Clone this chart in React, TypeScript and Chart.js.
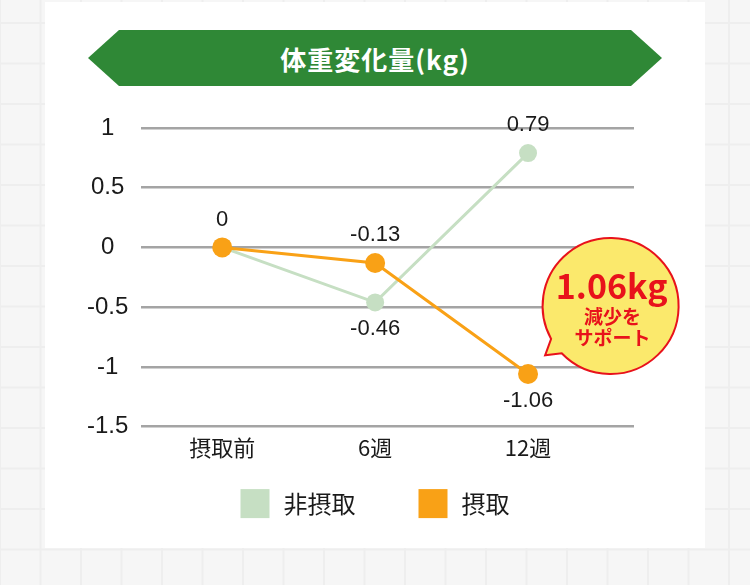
import { useEffect, useRef } from "react";
import { Chart, registerables } from "chart.js";

Chart.register(...registerables);

const categories = ["摂取前", "6週", "12週"];
const seriesNames = ["非摂取", "摂取"];
const nonIntake = [0, -0.46, 0.79];
const intake = [0, -0.13, -1.06];
const yTicks = [-1.5, -1, -0.5, 0, 0.5, 1];
// where each value label sits relative to its point ("" = no label)
const nonIntakeLabelSide = ["", "below", "above"];
const intakeLabelSide = ["above", "above", "below"];
const calloutLines = ["1.06kg", "減少を", "サポート"];
const calloutAt = { x: 2.54, y: -0.49 };

const GREEN = "#c6dfc3";
const ORANGE = "#f9a116";
const RED = "#e8121b";
const JP = '"Noto Sans CJK JP", "Noto Sans", sans-serif';
const LATIN = '"Liberation Sans", Arial, sans-serif';

const valueLabels = {
  id: "valueLabels",
  afterDatasetsDraw(chart: any) {
    const ctx = chart.ctx;
    const sides = [nonIntakeLabelSide, intakeLabelSide];
    ctx.save();
    ctx.font = `22px ${LATIN}`;
    ctx.fillStyle = "#1a1a1a";
    ctx.textAlign = "center";
    ctx.textBaseline = "middle";
    chart.data.datasets.forEach((ds: any, di: number) => {
      const meta = chart.getDatasetMeta(di);
      meta.data.forEach((pt: any, i: number) => {
        const side = sides[di][i];
        if (!side) return;
        ctx.fillText(String(ds.data[i].y), pt.x, pt.y + (side === "above" ? -28 : 27));
      });
    });
    ctx.restore();
  },
};

const callout = {
  id: "callout",
  afterDraw(chart: any) {
    const { ctx, scales } = chart;
    const cx = scales.x.getPixelForValue(calloutAt.x);
    const cy = scales.y.getPixelForValue(calloutAt.y);
    const r = 68;
    const deg = Math.PI / 180;
    const tipA = 143 * deg;
    ctx.save();
    ctx.beginPath();
    ctx.arc(cx, cy, r, 136 * deg, 151 * deg, true);
    ctx.lineTo(cx + Math.cos(tipA) * (r + 14), cy + Math.sin(tipA) * (r + 14));
    ctx.closePath();
    ctx.fillStyle = "#fbe96c";
    ctx.fill();
    ctx.lineWidth = 2;
    ctx.strokeStyle = RED;
    ctx.stroke();
    ctx.fillStyle = RED;
    ctx.textAlign = "center";
    ctx.textBaseline = "middle";
    ctx.font = `bold 34px ${JP}`;
    ctx.fillText(calloutLines[0], cx + 1, cy - 20);
    ctx.font = `bold 19px ${JP}`;
    ctx.fillText(calloutLines[1], cx + 2, cy + 11);
    ctx.fillText(calloutLines[2], cx + 2, cy + 32);
    ctx.restore();
  },
};

const legendRow = {
  id: "legendRow",
  afterDraw(chart: any) {
    const { ctx, chartArea } = chart;
    const box = 29;
    const gapText = 14;
    const gapItem = 63;
    ctx.save();
    ctx.font = `24px ${JP}`;
    const items = chart.data.datasets.map((ds: any) => ({
      text: ds.label,
      color: ds.backgroundColor,
      w: ctx.measureText(ds.label).width,
    }));
    const total =
      items.reduce((s: number, it: any) => s + box + gapText + it.w, 0) + gapItem * (items.length - 1);
    let x = chart.width / 2 - total / 2;
    const y = chartArea.bottom + 77;
    ctx.textBaseline = "middle";
    ctx.textAlign = "left";
    items.forEach((it: any) => {
      ctx.fillStyle = it.color;
      ctx.fillRect(x, y - box / 2, box, box);
      ctx.fillStyle = "#1a1a1a";
      ctx.fillText(it.text, x + box + gapText, y);
      x += box + gapText + it.w + gapItem;
    });
    ctx.restore();
  },
};

const WeightChart = () => {
  const canvasRef = useRef<HTMLCanvasElement | null>(null);
  const chartRef = useRef<Chart | null>(null);

  useEffect(() => {
    if (!canvasRef.current) return;
    const ctx = canvasRef.current.getContext("2d");
    if (!ctx) return;

    const toPoints = (vals: number[]) => vals.map((y, i) => ({ x: i, y }));

    chartRef.current = new Chart(ctx, {
      type: "line",
      data: {
        datasets: [
          {
            label: seriesNames[0],
            data: toPoints(nonIntake),
            borderColor: GREEN,
            backgroundColor: GREEN,
            pointBackgroundColor: GREEN,
            borderWidth: 3,
            pointRadius: 9,
            pointBorderWidth: 0,
            order: 1,
          },
          {
            label: seriesNames[1],
            data: toPoints(intake),
            borderColor: ORANGE,
            backgroundColor: ORANGE,
            pointBackgroundColor: ORANGE,
            borderWidth: 3,
            pointRadius: 10,
            pointBorderWidth: 0,
            order: 0,
          },
        ],
      },
      options: {
        responsive: false,
        animation: false,
        layout: { padding: { left: 74, right: 116, top: 128, bottom: 116 } },
        scales: {
          x: {
            type: "linear",
            min: -0.529,
            max: 2.693,
            grid: { display: false, drawTicks: false },
            border: { display: false },
            afterBuildTicks: (axis: any) => {
              axis.ticks = categories.map((_, i) => ({ value: i }));
            },
            ticks: {
              autoSkip: false,
              maxRotation: 0,
              padding: 8,
              color: "#1a1a1a",
              font: { family: JP, size: 22 },
              callback: (v: any) => categories[v],
            },
          },
          y: {
            min: -1.5,
            max: 1,
            grid: { color: "#a4a4a4", lineWidth: 2.5, drawTicks: false },
            border: { display: false },
            afterBuildTicks: (axis: any) => {
              axis.ticks = yTicks.map((value) => ({ value }));
            },
            ticks: {
              crossAlign: "center",
              padding: 13,
              color: "#1a1a1a",
              font: { family: LATIN, size: 24 },
              callback: (v: any) => String(v),
            },
          },
        },
        plugins: {
          legend: { display: false },
          tooltip: { enabled: false },
        },
      },
      plugins: [valueLabels, callout, legendRow],
    });

    return () => {
      chartRef.current?.destroy();
    };
  }, []);

  return (
    <canvas
      ref={canvasRef}
      width={750}
      height={585}
      style={{ position: "absolute", left: 0, top: 0 }}
    />
  );
};

export default function App() {
  return (
    <div
      style={{
        position: "absolute",
        left: 0,
        top: 0,
        width: 750,
        height: 585,
        overflow: "hidden",
        backgroundColor: "#f6f6f6",
        backgroundImage:
          "linear-gradient(#eeeeee 2px, transparent 2px), linear-gradient(90deg, #eeeeee 2px, transparent 2px)",
        backgroundSize: "40.5px 40.5px",
        backgroundPosition: "-1px 22px",
      }}
    >
      <div
        style={{
          position: "absolute",
          left: 45,
          top: 2,
          width: 660,
          height: 546,
          background: "#fff",
        }}
      />
      <div
        style={{
          position: "absolute",
          left: 88,
          top: 30,
          width: 574,
          height: 56,
          background: "#2f8836",
          clipPath: "polygon(0 50%, 31px 0, calc(100% - 31px) 0, 100% 50%, calc(100% - 31px) 100%, 31px 100%)",
          color: "#fff",
          display: "flex",
          alignItems: "center",
          justifyContent: "center",
          fontFamily: JP,
          fontWeight: 700,
          fontSize: 26,
          letterSpacing: 1,
        }}
      >
        体重変化量(kg)
      </div>
      <WeightChart />
    </div>
  );
}
